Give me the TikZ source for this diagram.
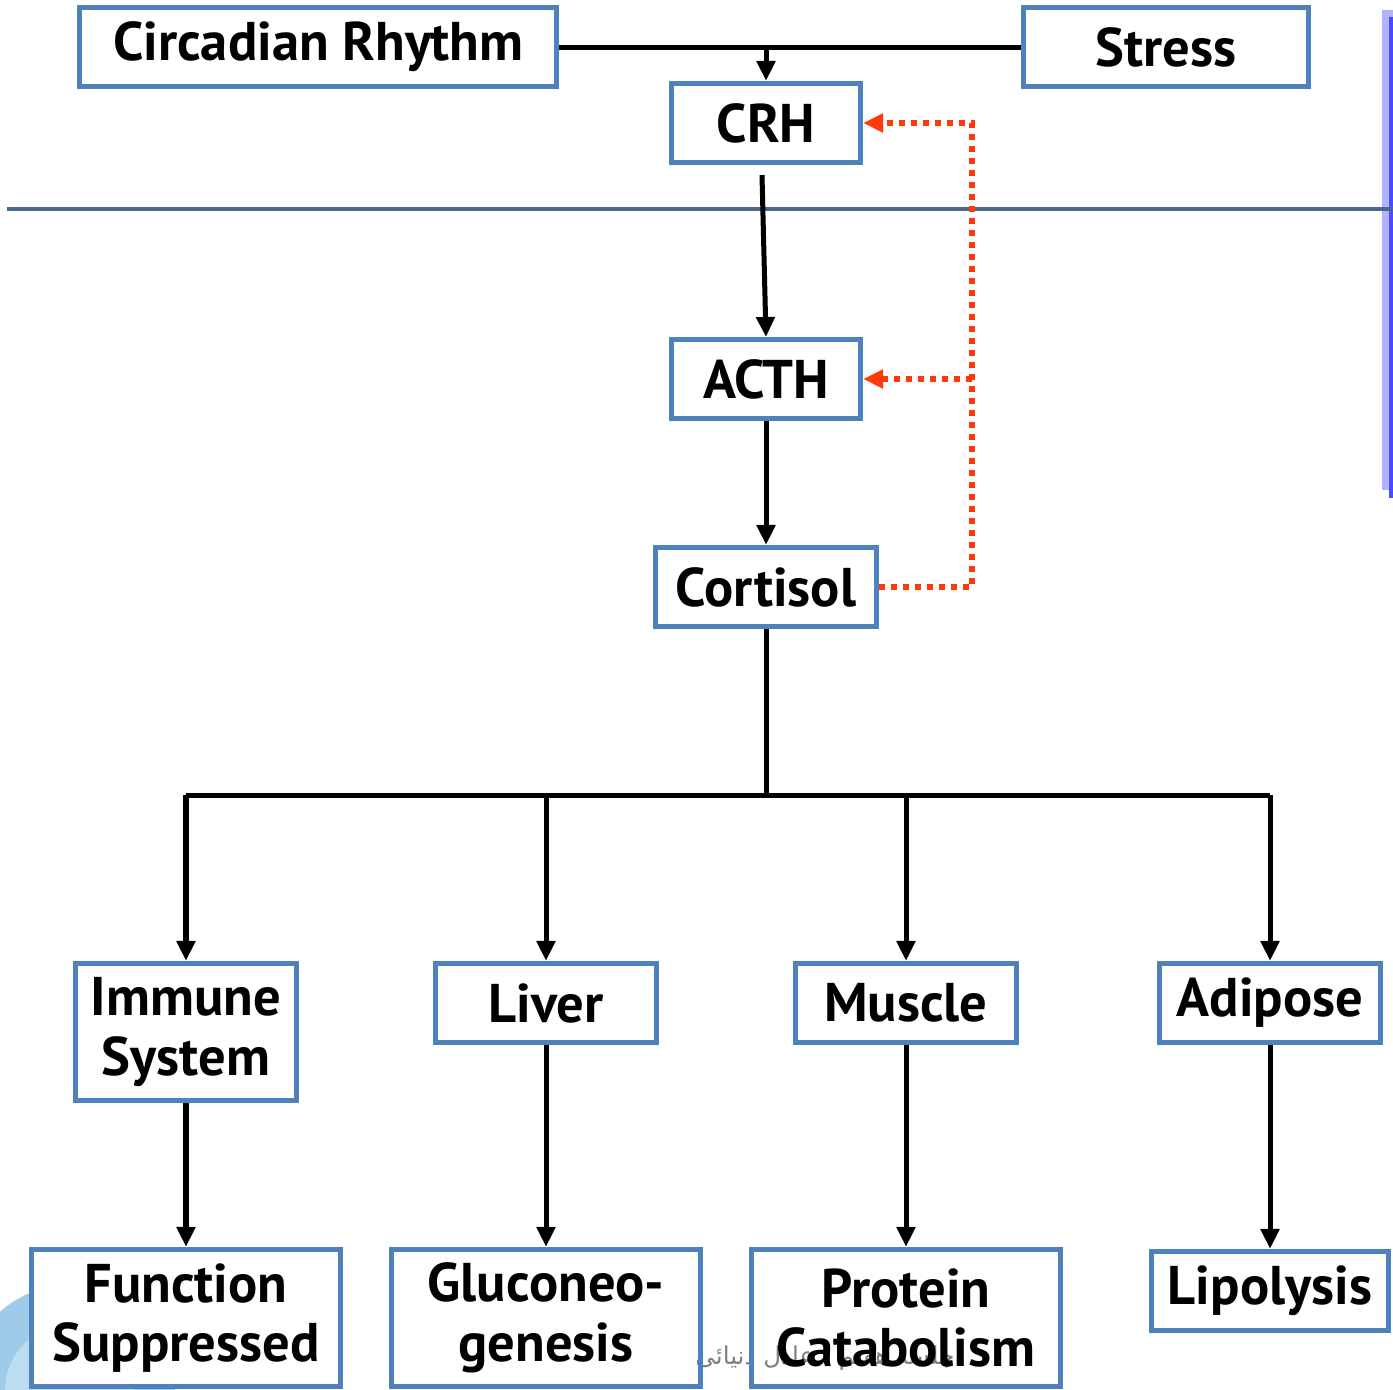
\documentclass[tikz,border=0pt]{standalone}
\usepackage{fontspec}
\setmainfont{PT Sans}
\newfontfamily\arabicfont[Script=Arabic]{DejaVu Sans}
\TeXXeTstate=1
\usetikzlibrary{arrows.meta, positioning, calc}
\definecolor{boxblue}{HTML}{4F81BD}
\definecolor{fbred}{HTML}{FF3A0A}
\definecolor{sepblue}{HTML}{4A6790}
\definecolor{ringblue}{HTML}{9DCBE8}
\definecolor{ringpale}{HTML}{BADDF1}

\begin{document}
\begin{tikzpicture}[x=0.01cm, y=-0.01cm,
    box/.style={draw=boxblue, line width=0.05cm, align=center, inner sep=0pt,
      minimum height=0.79cm, font=\bfseries\fontsize{15.5}{17}\selectfont},
    tallbox/.style={box, minimum height=1.37cm},
    flow/.style={line width=0.05cm, -{Triangle[width=0.18cm,length=0.2cm]}},
    feedback/.style={fbred, line width=0.055cm, dash pattern=on 0.06cm off 0.06cm,
      -{Triangle[width=0.18cm,length=0.2cm]}}]
        \clip (0,0) rectangle (1393,1390);
        % --- Background marks ---
        \fill[blue!30] (1382,10) rectangle (1393,490);
        \draw[blue!70, line width=0.04cm] (1391,17) -- (1391,498);
        \fill[ringblue] (70,1390) circle (105);
        \fill[ringpale] (70,1390) circle (65);
        \node[font=\arabicfont\fontsize{7}{8}\selectfont, text=gray] (mark) at (825,1358)
            {\beginR جلسه هفتم - عادل دنیائی\endR};
        \draw[sepblue, line width=0.04cm] (7,209) -- (1393,209);

        % --- Inputs ---
        \node[box, minimum width=4.77cm] (circ) at (318,47) {Circadian Rhythm};
        \node[box, minimum width=2.85cm] (stress) at (1166,47) {Stress};
        \coordinate (join) at (766,47);

        % --- Axis ---
        \node[box, minimum width=1.89cm] (crh) at (766,123) {CRH};
        \node[box, minimum width=1.89cm] (acth) at (766,379) {ACTH};
        \node[box, minimum width=2.21cm] (cort) at (766,587) {Cortisol};
        \coordinate (split) at (766,795);
        \coordinate (fbtop) at (972,123);

        % --- Targets ---
        \node[tallbox, minimum width=2.21cm] (imm) at (186,1032) {Immune\\System};
        \node[box, minimum width=2.21cm] (liv) at (546,1003) {Liver};
        \node[box, minimum width=2.21cm] (mus) at (906,1003) {Muscle};
        \node[box, minimum width=2.21cm] (adi) at (1270,1003) {Adipose};

        % --- Effects ---
        \node[tallbox, fill=white, minimum width=3.09cm] (func) at (186,1318) {Function\\Suppressed};
        \node[tallbox, minimum width=3.09cm] (gluc) at (546,1318) {Gluconeo-\\genesis};
        \node[tallbox, minimum width=3.09cm] (prot) at (906,1318) {Protein\\Catabolism};
        \node[box, minimum width=2.37cm] (lipo) at (1270,1291) {Lipolysis};

        % --- Connectors ---
        \draw[line width=0.05cm] (circ.east) -- (stress.west);
        \draw[flow] (join) -- (crh.north);
        \draw[flow] ([xshift=-0.04cm, yshift=-0.1cm]crh.south) -- (acth.north);
        \draw[flow] (acth) -- (cort);
        \draw[line width=0.05cm] (cort.south) -- (split);
        \draw[line width=0.05cm] (imm.north |- split) -- (adi.north |- split);
        \foreach \t in {imm, liv, mus, adi}
            \draw[flow] (\t.north |- split) -- (\t.north);
        \draw[flow] (imm) -- (func);
        \draw[flow] (liv) -- (gluc);
        \draw[flow] (mus) -- (prot);
        \draw[flow] (adi) -- (lipo);

        % --- Feedback ---
        \draw[feedback] (cort.east) -| (fbtop) -- (crh.east);
        \draw[feedback] (fbtop |- acth.east) -- (acth.east);
    \end{tikzpicture}
\end{document}
